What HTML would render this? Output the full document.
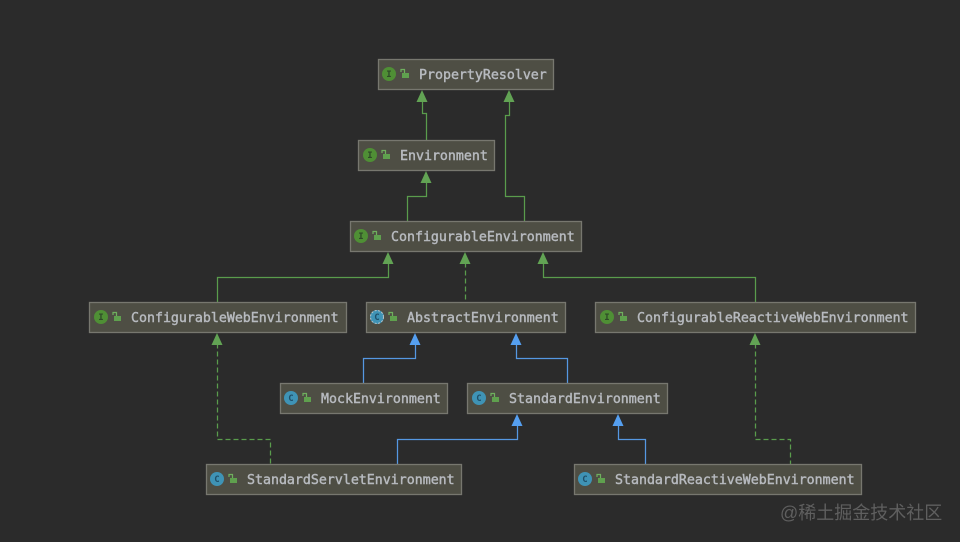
<!DOCTYPE html>
<html>
<head>
<meta charset="utf-8">
<style>
html,body{margin:0;padding:0;background:#2b2b2b;}
svg{display:block;}
text{font-family:"DejaVu Sans Mono","Liberation Mono",monospace;font-size:13.28px;font-weight:normal;fill:#b7babf;stroke:#b7babf;stroke-width:0.42px;transform:translateY(0.8px);}
.wm{font-family:"Liberation Sans","Noto Sans CJK SC",sans-serif;font-size:18px;font-weight:normal;fill:#5f5f5f;stroke:none;transform:none;}
.b{fill:#4e4e44;stroke:#77776f;stroke-width:1.3;}
.g{fill:none;stroke:#5a9c4c;stroke-width:1.25;}
.u{fill:none;stroke:#5598e2;stroke-width:1.25;}
.d{stroke-dasharray:5 3;}
.ag{fill:#62a354;}
.au{fill:#559ff0;}
.ii{fill:#4f8f35;}
.ic{fill:#3f93b5;}
.lt{font-size:9px;fill:#2f4a28;stroke:none;text-anchor:middle;font-weight:bold;transform:none;}
.lc{font-size:9px;fill:#1f4f68;stroke:none;text-anchor:middle;font-weight:bold;transform:none;}
.lock{fill:#5fa04e;}
.sh{fill:none;stroke:#6fb05e;stroke-width:1.2;}
</style>
</head>
<body>
<svg width="960" height="542" viewBox="0 0 960 542" xmlns="http://www.w3.org/2000/svg">
<rect width="960" height="542" fill="#2b2b2b"/>

<!-- connectors -->
<g transform="translate(0.5,0.5)">
<path class="g" d="M422 100V113H426V140"/>
<path class="g" d="M509 100V115H505V196H524V221"/>
<path class="g" d="M426 181V196H407V221"/>
<path class="g" d="M388 262V277H217V302"/>
<path class="g d" d="M465 262V302"/>
<path class="g" d="M543 262V277H755V302"/>
<path class="g d" d="M217 343V439H270V464"/>
<path class="g d" d="M755 343V439H790V464"/>
<path class="u" d="M415 343V358H363V383"/>
<path class="u" d="M516 343V358H567V383"/>
<path class="u" d="M517 424V439H397V464"/>
<path class="u" d="M618 424V439H645V464"/>
</g>

<!-- arrowheads -->
<g class="ag">
<polygon points="422,90 416.500,102 427.500,102"/>
<polygon points="509,90 503.500,102 514.500,102"/>
<polygon points="426,171 420.500,183 431.500,183"/>
<polygon points="388,252 382.500,264 393.500,264"/>
<polygon points="465,252 459.500,264 470.500,264"/>
<polygon points="543,252 537.500,264 548.500,264"/>
<polygon points="217,333 211.500,345 222.500,345"/>
<polygon points="755,333 749.500,345 760.500,345"/>
</g>
<g class="au">
<polygon points="415,333 409.500,345 420.500,345"/>
<polygon points="516,333 510.500,345 521.500,345"/>
<polygon points="517,414 511.500,426 522.500,426"/>
<polygon points="618,414 612.500,426 623.500,426"/>
</g>

<!-- PropertyResolver -->
<rect class="b" x="378.500" y="59.500" width="175" height="30"/>
<circle class="ii" cx="389" cy="74" r="7"/><text class="lt" x="389" y="77">I</text>
<rect class="lock" x="402" y="73" width="7" height="5"/><path class="sh" d="M401 72V69.500H404.500V73"/>
<text x="419" y="78">PropertyResolver</text>

<!-- Environment -->
<rect class="b" x="358.500" y="140.500" width="136" height="30"/>
<circle class="ii" cx="370" cy="155" r="7"/><text class="lt" x="370" y="158">I</text>
<rect class="lock" x="383" y="154" width="7" height="5"/><path class="sh" d="M382 153V150.500H385.500V154"/>
<text x="400" y="159">Environment</text>

<!-- ConfigurableEnvironment -->
<rect class="b" x="350.500" y="221.500" width="231" height="30"/>
<circle class="ii" cx="361" cy="236" r="7"/><text class="lt" x="361" y="239">I</text>
<rect class="lock" x="374" y="235" width="7" height="5"/><path class="sh" d="M373 234V231.500H376.500V235"/>
<text x="391" y="240">ConfigurableEnvironment</text>

<!-- ConfigurableWebEnvironment -->
<rect class="b" x="89.500" y="302.500" width="257" height="30"/>
<circle class="ii" cx="101" cy="317" r="7"/><text class="lt" x="101" y="320">I</text>
<rect class="lock" x="114" y="316" width="7" height="5"/><path class="sh" d="M113 315V312.500H116.500V316"/>
<text x="131" y="321">ConfigurableWebEnvironment</text>

<!-- AbstractEnvironment -->
<rect class="b" x="366.500" y="302.500" width="199" height="30"/>
<circle class="ic" cx="377" cy="317" r="7"/>
<circle cx="377" cy="317" r="6.500" fill="none" stroke="#b9c4c8" stroke-width="1" stroke-dasharray="2 1.500"/>
<text class="lc" x="377" y="320">C</text>
<rect class="lock" x="390" y="316" width="7" height="5"/><path class="sh" d="M389 315V312.500H392.500V316"/>
<text x="407" y="321">AbstractEnvironment</text>

<!-- ConfigurableReactiveWebEnvironment -->
<rect class="b" x="595.500" y="302.500" width="320" height="30"/>
<circle class="ii" cx="607" cy="317" r="7"/><text class="lt" x="607" y="320">I</text>
<rect class="lock" x="620" y="316" width="7" height="5"/><path class="sh" d="M619 315V312.500H622.500V316"/>
<text x="637" y="321">ConfigurableReactiveWebEnvironment</text>

<!-- MockEnvironment -->
<rect class="b" x="280.500" y="383.500" width="167" height="30"/>
<circle class="ic" cx="291" cy="398" r="7"/><text class="lc" x="291" y="401">C</text>
<rect class="lock" x="304" y="397" width="7" height="5"/><path class="sh" d="M303 396V393.500H306.500V397"/>
<text x="321" y="402">MockEnvironment</text>

<!-- StandardEnvironment -->
<rect class="b" x="467.500" y="383.500" width="200" height="30"/>
<circle class="ic" cx="479" cy="398" r="7"/><text class="lc" x="479" y="401">C</text>
<rect class="lock" x="492" y="397" width="7" height="5"/><path class="sh" d="M491 396V393.500H494.500V397"/>
<text x="509" y="402">StandardEnvironment</text>

<!-- StandardServletEnvironment -->
<rect class="b" x="206.500" y="464.500" width="255" height="30"/>
<circle class="ic" cx="217" cy="479" r="7"/><text class="lc" x="217" y="482">C</text>
<rect class="lock" x="230" y="478" width="7" height="5"/><path class="sh" d="M229 477V474.500H232.500V478"/>
<text x="247" y="483">StandardServletEnvironment</text>

<!-- StandardReactiveWebEnvironment -->
<rect class="b" x="574.500" y="464.500" width="287" height="30"/>
<circle class="ic" cx="585" cy="479" r="7"/><text class="lc" x="585" y="482">C</text>
<rect class="lock" x="598" y="478" width="7" height="5"/><path class="sh" d="M597 477V474.500H600.500V478"/>
<text x="615" y="483">StandardReactiveWebEnvironment</text>

<!-- watermark -->
<text class="wm" x="780" y="519">@稀土掘金技术社区</text>
</svg>
</body>
</html>
